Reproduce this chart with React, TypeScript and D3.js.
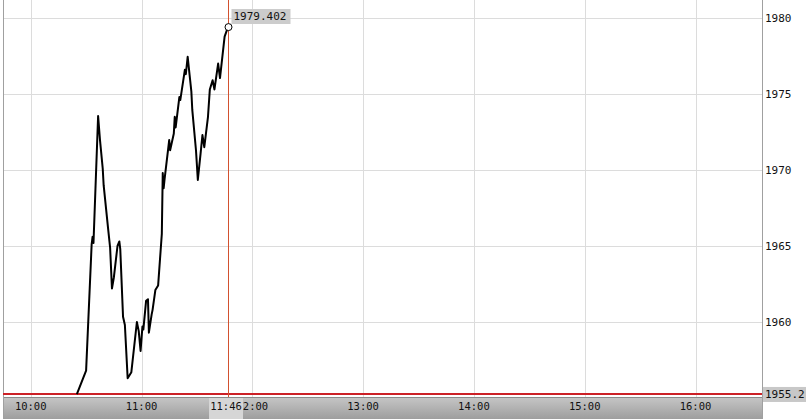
import React from "react";
import * as d3 from "d3";

const times = [
  "10:25:00", "10:30:00", "10:33:00", "10:33:30", "10:34:00", "10:36:30", "10:37:30", "10:39:00", "10:39:30",
  "10:42:00", "10:43:00", "10:44:00", "10:45:00", "10:47:00", "10:48:00", "10:48:30", "10:50:00",
  "10:51:00", "10:52:30", "10:54:30", "10:57:30", "10:58:30", "10:59:30", "11:00:30", "11:01:00",
  "11:02:30", "11:03:30", "11:04:00", "11:05:30", "11:06:00", "11:07:30", "11:09:00", "11:10:00",
  "11:11:00", "11:11:30", "11:12:00", "11:12:30", "11:15:00", "11:15:30", "11:17:30", "11:18:00",
  "11:18:30", "11:20:30", "11:21:00", "11:23:30", "11:24:00", "11:25:00", "11:27:00", "11:27:30",
  "11:29:30", "11:30:30", "11:32:00", "11:33:00", "11:34:00", "11:36:00", "11:37:00", "11:38:30",
  "11:39:30", "11:41:30", "11:42:30", "11:45:00", "11:46:50",
];
const values = [
  1955.26, 1956.8, 1965.1, 1965.6, 1965.2, 1973.55, 1972.0, 1970.1, 1969.0,
  1966.05, 1964.9, 1962.2, 1962.9, 1965.0, 1965.3, 1964.8, 1960.35,
  1959.8, 1956.3, 1956.7, 1960.0, 1959.4, 1958.1, 1959.7, 1959.5,
  1961.4, 1961.5, 1959.3, 1960.5, 1960.8, 1962.1, 1962.4, 1964.1,
  1965.8, 1969.8, 1968.8, 1969.4, 1971.97, 1971.3, 1972.4, 1973.5,
  1972.8, 1974.8, 1974.6, 1976.6, 1976.3, 1977.45, 1975.15, 1973.95,
  1971.3, 1969.35, 1971.1, 1972.3, 1971.5, 1973.5, 1975.3, 1975.9,
  1975.3, 1977.0, 1976.05, 1978.77, 1979.402,
];
const yTicks = [1960, 1965, 1970, 1975, 1980];
const xTicks = ["10:00", "11:00", "12:00", "13:00", "14:00", "15:00", "16:00"];
const prevClose = 1955.2;
const lastLabel = "1979.402";
const cursorLabel = "11:46";
const xDomain = ["09:45:00", "16:36:00"];

const W = 808;
const H = 419;
const plotLeft = 3;
const plotRight = 762;
const plotTop = 0;
const plotBottom = 397;

export default function App() {
  const parse = d3.timeParse("%H:%M:%S");
  const parseHM = d3.timeParse("%H:%M");
  const x = d3
    .scaleTime()
    .domain([parse(xDomain[0]) as Date, parse(xDomain[1]) as Date])
    .range([plotLeft, plotRight]);
  const y = d3.scaleLinear().domain([1960, 1980]).range([322, 18]);

  const data = times.map((t, i) => ({ t: parse(t) as Date, v: values[i] }));
  const line = d3
    .line<{ t: Date; v: number }>()
    .x((d) => x(d.t))
    .y((d) => y(d.v));

  const last = data[data.length - 1];
  const lx = Math.round(x(last.t)) + 0.5;
  const ly = y(last.v);
  const mono = "'DejaVu Sans Mono', monospace";

  return (
    <svg
      width={W}
      height={H}
      style={{ position: "absolute", left: 0, top: 0, background: "#fff" }}
    >
      <defs>
        <linearGradient id="band" x1="0" y1="0" x2="0" y2="1">
          <stop offset="0%" stopColor="#c6c6c6" />
          <stop offset="100%" stopColor="#9e9e9e" />
        </linearGradient>
      </defs>
      <rect x={0} y={0} width={W} height={H} fill="#fff" />
      {yTicks.map((t) => (
        <line
          key={"hy" + t}
          x1={plotLeft}
          x2={plotRight}
          y1={Math.round(y(t)) + 0.5}
          y2={Math.round(y(t)) + 0.5}
          stroke="#dcdcdc"
          strokeWidth={1}
        />
      ))}
      {xTicks.map((t) => {
        const px = Math.round(x(parseHM(t) as Date)) + 0.5;
        return (
          <line
            key={"vx" + t}
            x1={px}
            x2={px}
            y1={plotTop}
            y2={plotBottom}
            stroke="#dcdcdc"
            strokeWidth={1}
          />
        );
      })}
      <rect x={plotLeft} y={plotBottom} width={plotRight - plotLeft} height={H - plotBottom} fill="url(#band)" />
      <line x1={plotLeft} x2={plotRight} y1={plotBottom + 0.5} y2={plotBottom + 0.5} stroke="#8a8a8a" />
      <line x1={plotLeft + 0.5} x2={plotLeft + 0.5} y1={0} y2={H} stroke="#a0a0a0" />
      <line x1={plotRight + 0.5} x2={plotRight + 0.5} y1={0} y2={H} stroke="#a0a0a0" />
      {xTicks.map((t) => (
        <text
          key={"xl" + t}
          x={x(parseHM(t) as Date)}
          y={410}
          textAnchor="middle"
          fontFamily={mono}
          fontSize={10.5}
          fill="#111"
        >
          {t}
        </text>
      ))}
      {yTicks.map((t) => (
        <text
          key={"yl" + t}
          x={765}
          y={y(t) + 4}
          fontFamily={mono}
          fontSize={11}
          fill="#111"
        >
          {t}
        </text>
      ))}
      <line
        x1={plotLeft}
        x2={plotRight}
        y1={y(prevClose) - 1}
        y2={y(prevClose) - 1}
        stroke="#cc2127"
        strokeWidth={2}
      />
      <rect x={763} y={y(prevClose) - 8} width={43} height={15} fill="#c8c8c8" />
      <text x={765} y={y(prevClose) + 3} fontFamily={mono} fontSize={11} fill="#111">
        {prevClose}
      </text>
      <path d={line(data) || ""} fill="none" stroke="#000" strokeWidth={2} strokeLinejoin="round" />
      <line x1={lx} x2={lx} y1={plotTop} y2={plotBottom} stroke="#d2512f" strokeWidth={1} />
      <circle cx={lx} cy={ly} r={3.5} fill="#fff" stroke="#000" strokeWidth={1} />
      <rect x={lx + 3} y={9} width={59} height={15} fill="#cccccc" />
      <text x={lx + 5} y={20} fontFamily={mono} fontSize={11} fill="#111">
        {lastLabel}
      </text>
      <rect x={lx - 19.5} y={plotBottom + 1} width={34} height={H - plotBottom - 1} fill="#d6d6d6" />
      <text x={lx - 2.5} y={410} textAnchor="middle" fontFamily={mono} fontSize={10.5} fill="#111">
        {cursorLabel}
      </text>
    </svg>
  );
}
